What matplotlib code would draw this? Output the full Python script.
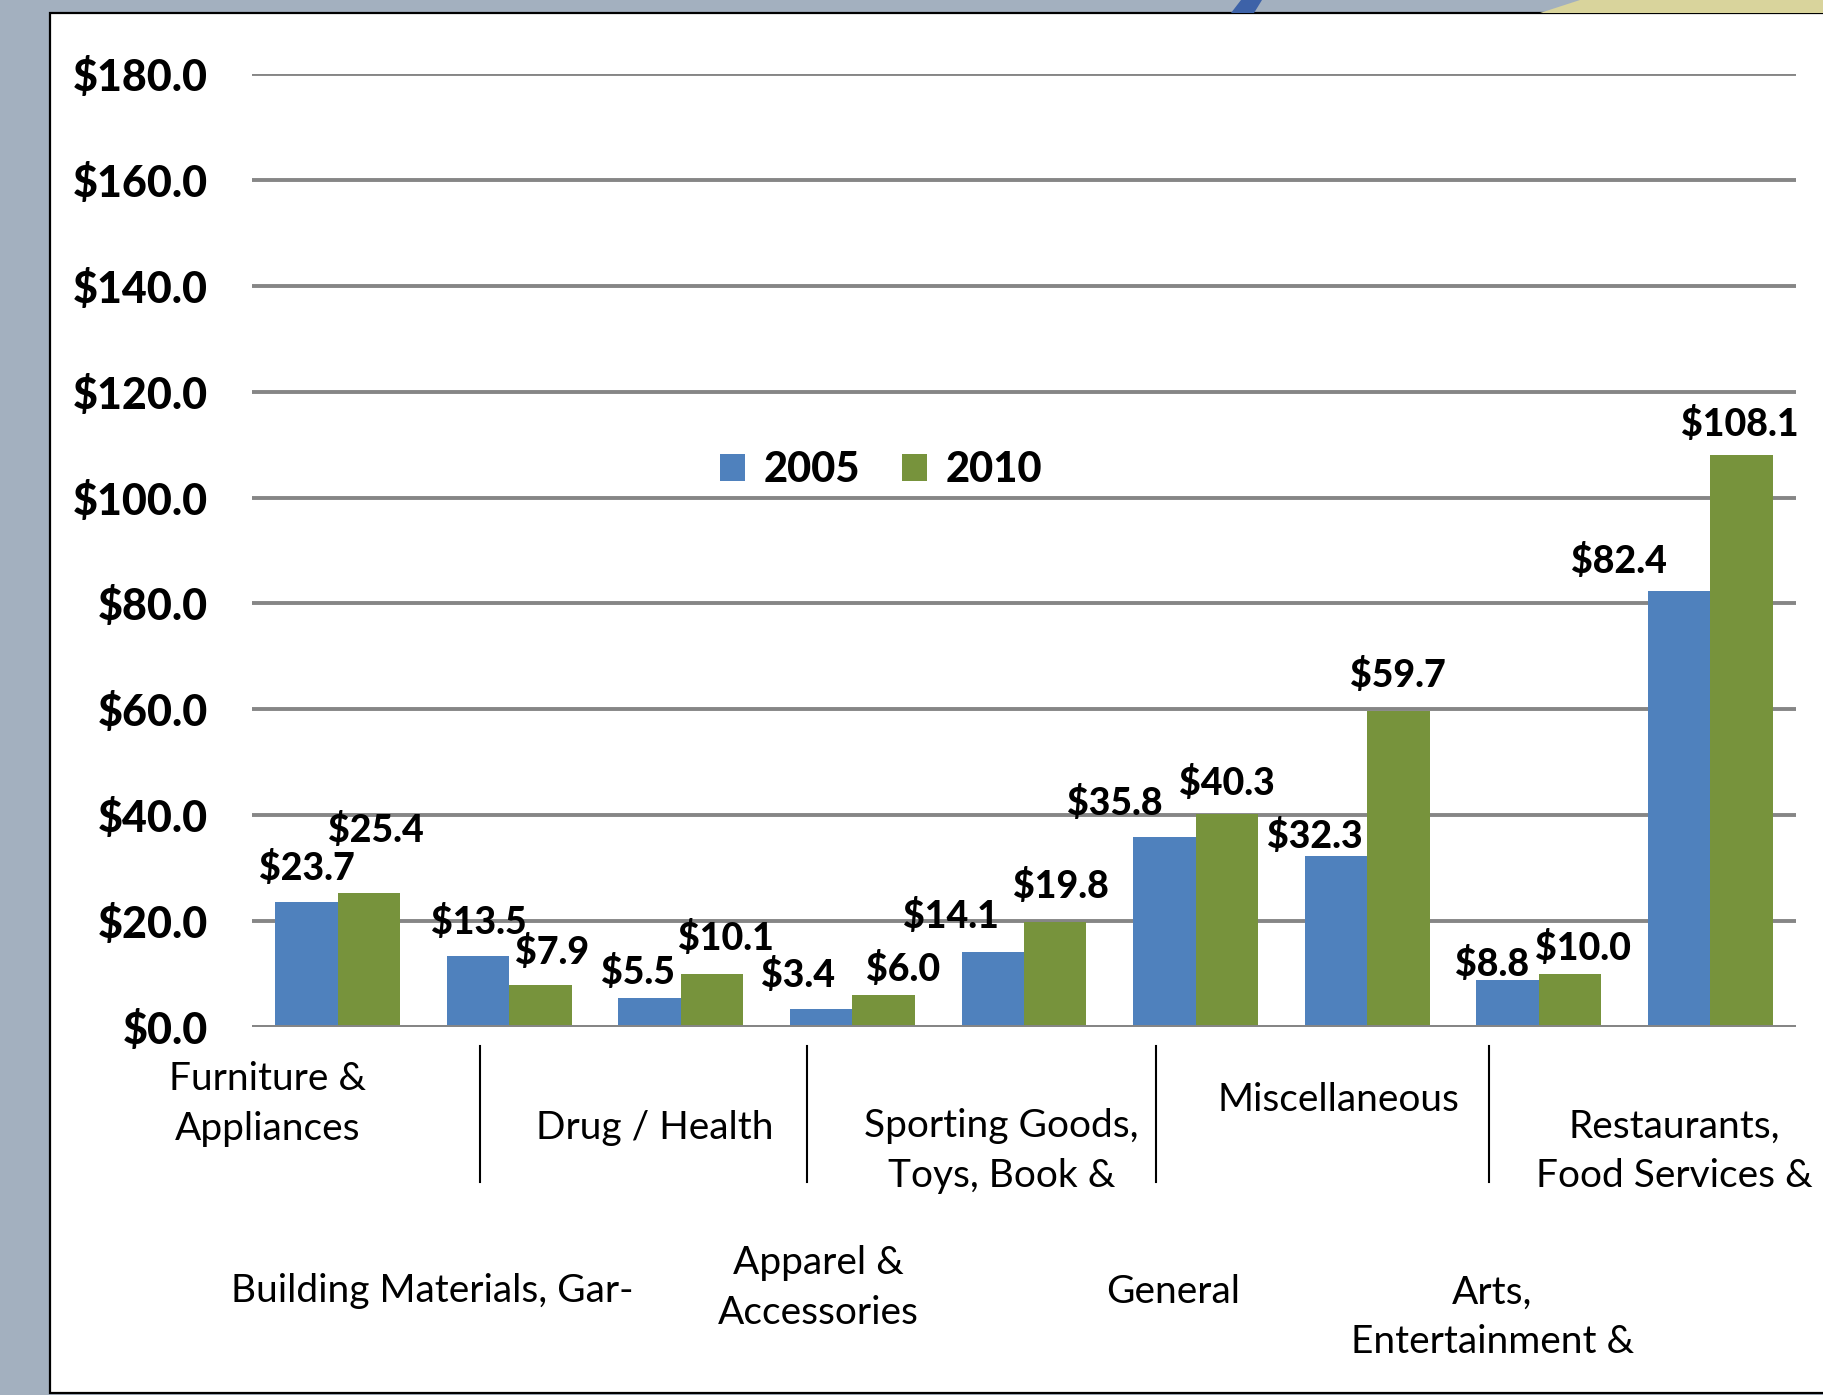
import matplotlib
matplotlib.use("Agg")
import matplotlib.pyplot as plt
from matplotlib.patches import Rectangle, Polygon
from matplotlib.lines import Line2D
import numpy as np

# === Data ===
categories = ["Furniture &\nAppliances", "Building Materials, Gar-", "Drug / Health",
              "Apparel &\nAccessories", "Sporting Goods,\nToys, Book &", "General",
              "Miscellaneous", "Arts,\nEntertainment &", "Restaurants,\nFood Services &"]
series_names = ["2005", "2010"]
values_2005 = [23.7, 13.5, 5.5, 3.4, 14.1, 35.8, 32.3, 8.8, 82.4]
values_2010 = [25.4, 7.9, 10.1, 6.0, 19.8, 40.3, 59.7, 10.0, 108.1]
y_ticks = [0, 20, 40, 60, 80, 100, 120, 140, 160, 180]

# === Styles ===
blue = "#4F81BD"
green = "#77933C"
grid_col = "#868686"
W, H = 1823, 1395

# label offsets (pixels) so labels dodge like the original
off_2005 = [(0, 34), (1, 34), (-12, 26), (-23, 34), (-42, 36), (-50, 34), (-21, 20), (-15, 16), (-60, 30)]
off_2010 = [(7, 63), (12, 33), (14, 36), (19, 26), (6, 36), (0, 31), (0, 36), (13, 26), (-2, 31)]

# category label placement (data x, figure px y) - staggered like Excel
lab_x = [-0.41, 0.55, 1.85, 2.80, 3.87, 4.87, 5.83, 6.73, 7.79]
lab_y = [1104, 1291, 1128, 1288, 1151, 1292, 1100, 1317, 1151]
sep_x = [480, 807, 1156, 1489]

LBL = ["Lato", "DejaVu Sans"]

fig = plt.figure(figsize=(W / 100, H / 100), dpi=100)
fig.patch.set_facecolor("#A3B0BF")

# white panel with black border
fig.patches.append(Rectangle((50 / W, 2 / H), 1.2, 1 - 15 / H, transform=fig.transFigure,
                             facecolor="white", edgecolor="black", lw=1.6, zorder=-2))
# bits of the slide decoration at top right
fig.patches.append(Polygon([(1540 / W, 1 - 13 / H), (1580 / W, 1.0), (1.0, 1.0), (1.0, 1 - 13 / H)],
                           closed=True, transform=fig.transFigure, facecolor="#D9D49C",
                           edgecolor="none", zorder=-2))
fig.patches.append(Polygon([(1231 / W, 1 - 13 / H), (1241 / W, 1.0), (1262 / W, 1.0), (1254 / W, 1 - 13 / H)],
                           closed=True, transform=fig.transFigure, facecolor="#3D62A8",
                           edgecolor="none", zorder=-2))

ax = fig.add_axes([252 / W, 1 - 1027 / H, (1796 - 252) / W, (1027 - 74) / H])
ax.set_facecolor("none")
ax.set_zorder(2)

x = np.arange(len(categories))
bw = 0.364
b1 = ax.bar(x - bw / 2, values_2005, bw, color=blue, label=series_names[0], zorder=3)
b2 = ax.bar(x + bw / 2, values_2010, bw, color=green, label=series_names[1], zorder=3)

ax.set_xlim(-0.5, len(categories) - 0.5)
ax.set_ylim(0, 180)
ax.set_yticks(y_ticks)
ax.set_yticklabels([f"${v:.1f}" for v in y_ticks], fontsize=31, fontweight=900, family=LBL)
ax.tick_params(axis="y", length=0, pad=32)
ax.set_xticks([])
ax.grid(axis="y", color=grid_col, lw=2.8, zorder=1)
for s in ax.spines.values():
    s.set_visible(False)
ax.axhline(0, color=grid_col, lw=2.8, zorder=4)

# data labels
for bars, vals, offs in [(b1, values_2005, off_2005), (b2, values_2010, off_2010)]:
    for bar, v, (dx, dy) in zip(bars, vals, offs):
        ax.annotate(f"${v:.1f}", (bar.get_x() + bar.get_width() / 2, v),
                    xytext=(dx, dy), textcoords="offset pixels", ha="center", va="center",
                    fontsize=27, fontweight=900, family=LBL, zorder=5)

# category labels
for cx, cy, name in zip(lab_x, lab_y, categories):
    xf = ax.transData.transform((cx, 0))[0] / W
    fig.text(xf, 1 - cy / H, name, ha="center", va="center", fontsize=28,
             family=LBL, linespacing=1.45)

for sx in sep_x:
    fig.add_artist(Line2D([sx / W, sx / W], [1 - 1046 / H, 1 - 1182 / H], color="black", lw=1.5))

# legend
leg = ax.legend(loc="center", bbox_to_anchor=(881 / W, 1 - 470 / H), bbox_transform=fig.transFigure,
                ncol=2, frameon=False, prop={"family": LBL, "weight": 900, "size": 30},
                handlelength=0.6, handleheight=0.6, handletextpad=0.45, columnspacing=1.0)

fig.savefig("out.png", dpi=100)
